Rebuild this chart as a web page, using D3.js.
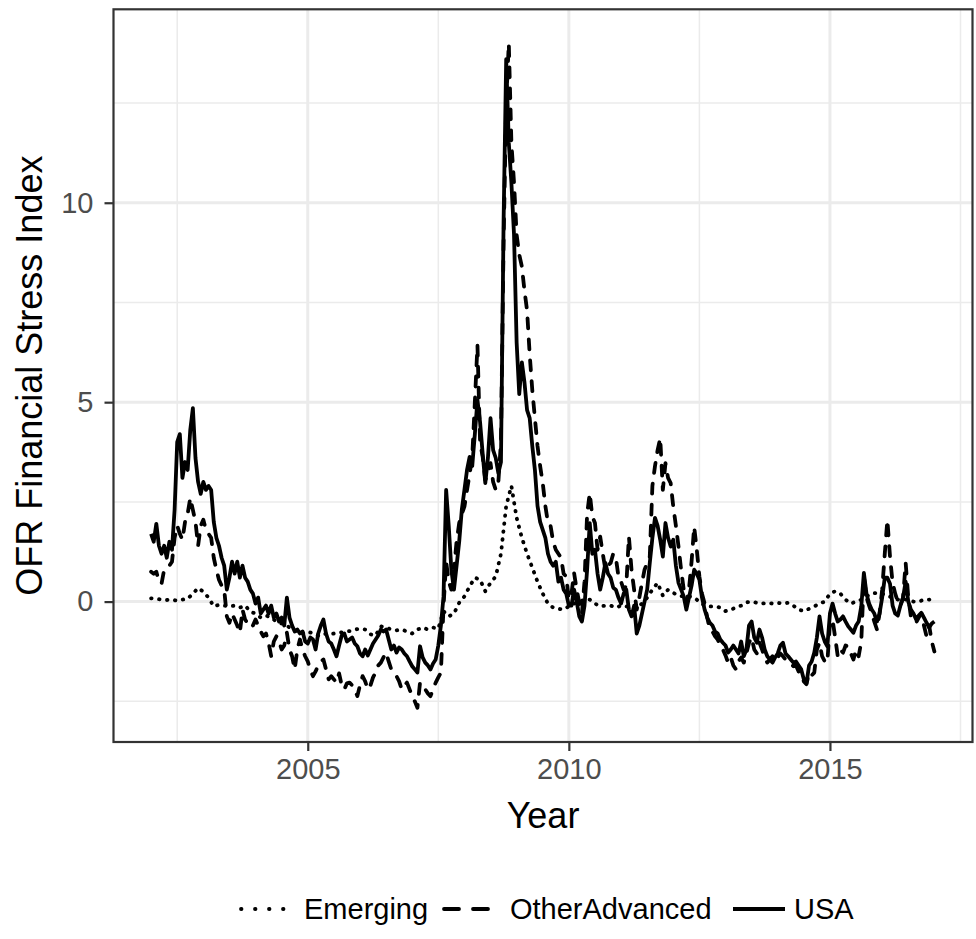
<!DOCTYPE html>
<html>
<head>
<meta charset="utf-8">
<script src="https://cdn.jsdelivr.net/npm/d3@7"></script>
<style>
  html, body { margin: 0; padding: 0; background: #fff; }
  svg { display: block; }
  text { font-family: "Liberation Sans", Arial, Helvetica, sans-serif; }
</style>
</head>
<body>
<svg id="chart" width="976" height="939"></svg>
<script>
// ---------------- DATA ----------------
const seriesNames = ["Emerging", "OtherAdvanced", "USA"];
const xTickValues = [2005, 2010, 2015];
const xTickLabels = ["2005", "2010", "2015"];
const yTickValues = [0, 5, 10];
const yTickLabels = ["0", "5", "10"];
const xMinorValues = [2002.5, 2007.5, 2012.5, 2017.5];
const yMinorValues = [-2.5, 2.5, 7.5, 12.5];

// USA and OtherAdvanced sampled every 0.05 year from 2002.00 to 2017.00
const fineStart = 2002, fineStep = 0.05;
const usaValues = [
  1.7, 1.5, 1.95, 1.4, 1.2, 1.4, 1.1, 1.5, 1.3, 2.3, 4.0, 4.2, 3.1, 3.5, 3.3, 4.3, 4.85, 3.6, 3.0, 2.7,
  3.0, 2.8, 2.9, 2.8, 2.0, 1.6, 1.4, 1.1, 0.9, 0.3, 0.6, 1.0, 0.7, 1.0, 0.6, 0.9, 0.6, 0.5, 0.3, 0.2,
  -0.05, 0.1, -0.3, -0.2, -0.1, -0.3, -0.1, -0.4, -0.3, -0.5, -0.4, -0.6, 0.1, -0.4, -0.6, -0.75, -0.7, -0.8, -0.75, -1.0,
  -1.05, -0.9, -0.95, -1.2, -0.8, -0.6, -0.45, -0.8, -1.0, -1.05, -1.2, -1.37, -1.1, -0.85, -0.8, -1.0, -0.95, -0.9, -1.05, -1.12,
  -1.3, -1.37, -1.2, -1.35, -1.2, -1.05, -0.95, -0.85, -0.7, -0.75, -0.7, -0.95, -1.2, -1.1, -1.28, -1.15, -1.2, -1.3, -1.37, -1.5,
  -1.62, -1.7, -1.78, -1.12, -1.4, -1.53, -1.6, -1.7, -1.55, -1.45, -1.1, -0.6, 0.13, 2.8, 1.9, 0.8, 0.3, 0.9, 1.5, 2.3,
  2.8, 3.3, 3.63, 3.4, 4.2, 5.05, 4.5, 3.7, 2.97, 3.6, 4.6, 3.8, 3.6, 3.22, 3.5, 9.5, 13.6, 11.5, 10.5, 9.2,
  6.5, 5.2, 6.0, 5.5, 4.8, 4.6, 3.9, 3.3, 2.4, 2.0, 1.8, 1.6, 1.2, 1.0, 0.9, 1.0, 0.5, 0.6, 0.3, 0.2,
  -0.1, -0.1, 0.3, 0.0, -0.37, -0.5, -0.1, 0.8, 1.97, 1.2, 1.3, 0.7, 0.3, 0.6, 0.97, 0.7, 0.6, 0.35, 0.3, 0.1,
  -0.05, 0.2, 0.3, -0.2, -0.37, -0.1, -0.8, -0.6, -0.3, 0.0, 0.3, 0.97, 1.6, 2.1, 1.9, 1.55, 1.13, 1.97, 1.6, 1.38,
  1.55, 0.9, 0.47, 0.3, 0.13, -0.2, 0.1, 0.4, 0.8, 0.7, 0.55, 0.1, -0.2, -0.4, -0.53, -0.6, -0.75, -0.8, -0.95, -1.03,
  -1.1, -1.28, -1.2, -1.1, -1.2, -1.3, -1.0, -1.37, -1.2, -0.6, -0.5, -0.9, -1.03, -0.7, -0.9, -1.2, -1.37, -1.45, -1.53, -1.4,
  -1.3, -1.1, -1.03, -1.3, -1.37, -1.45, -1.53, -1.5, -1.6, -1.7, -1.95, -2.05, -1.6, -1.5, -1.28, -0.9, -0.37, -0.8, -1.0, -1.12,
  -0.3, -0.05, -0.3, -0.5, -0.45, -0.37, -0.5, -0.62, -0.7, -0.78, -0.6, -0.5, -0.12, 0.72, 0.2, -0.05, -0.2, -0.3, -0.5, -0.3,
  0.1, 0.6, 0.6, 0.45, -0.1, -0.3, -0.35, -0.1, 0.1, 0.5, 0.0, -0.2, -0.3, -0.45, -0.35, -0.28, -0.4, -0.53, -0.65, -0.55,
  -0.5
];
const otherAdvancedValues = [
  0.75, 0.7, 0.75, 0.5, 0.45, 0.8, 0.85, 0.9, 1.0, 1.6, 1.9, 1.7, 1.55, 2.0, 2.2, 2.6, 2.3, 2.0, 1.4, 1.9,
  2.05, 1.8, 1.7, 1.6, 1.1, 0.8, 0.55, 0.4, 0.3, -0.37, -0.53, -0.3, -0.45, -0.6, -0.78, -0.2, -0.45, -0.55, -0.5, -0.6,
  -0.45, -0.6, -0.75, -0.87, -0.8, -1.03, -1.37, -1.0, -0.87, -1.0, -1.2, -1.1, -0.78, -1.2, -1.37, -1.7, -1.2, -0.95, -1.2, -1.37,
  -1.5, -1.7, -1.87, -1.75, -1.6, -1.5, -1.45, -1.7, -1.95, -1.87, -1.95, -2.03, -1.8, -2.1, -2.2, -2.05, -2.03, -2.1, -2.2, -2.37,
  -2.1, -1.87, -2.0, -2.2, -2.1, -1.9, -1.78, -1.6, -1.53, -1.4, -1.28, -1.5, -1.7, -1.8, -1.87, -2.0, -2.2, -2.1, -2.03, -2.2,
  -2.37, -2.5, -2.66, -2.03, -2.1, -2.2, -2.3, -2.37, -2.2, -2.03, -1.9, -1.78, -0.12, 1.0, 0.5, 0.3, 0.8, 1.5, 1.97, 2.2,
  2.38, 2.8, 3.2, 3.63, 5.0, 6.43, 4.0, 3.63, 3.05, 3.2, 3.47, 3.0, 2.8, 3.0, 4.0, 9.0, 12.5, 14.0, 11.5, 10.5,
  9.2, 8.7, 8.4, 7.8, 7.3, 6.2, 5.3, 4.6, 3.9, 3.4, 2.97, 2.4, 1.97, 1.9, 1.5, 1.3, 1.2, 1.1, 0.7, 0.63,
  0.05, 0.2, 0.72, 0.3, -0.03, -0.3, 0.5, 2.2, 2.72, 2.13, 1.97, 1.3, 1.63, 1.2, 0.8, 0.9, 0.97, 1.2, 1.1, 0.63,
  0.5, 0.3, 0.4, 1.63, 0.8, 0.3, -0.2, 0.1, 0.47, 0.8, 0.97, 1.13, 2.9, 3.4, 3.8, 4.1, 2.8, 3.47, 3.1, 2.97,
  2.38, 1.9, 1.38, 0.8, 0.3, -0.03, 0.3, 1.0, 1.88, 1.3, 0.63, 0.2, -0.05, -0.4, -0.7, -0.75, -0.87, -0.95, -1.1, -1.2,
  -1.35, -1.53, -1.4, -1.6, -1.7, -1.5, -1.4, -1.53, -1.3, -1.03, -0.9, -1.2, -1.3, -1.03, -1.2, -1.4, -1.53, -1.45, -1.37, -1.5,
  -1.4, -1.3, -1.37, -1.45, -1.5, -1.55, -1.62, -1.6, -1.75, -1.8, -2.0, -2.07, -1.78, -1.85, -1.78, -1.2, -1.03, -1.37, -1.5, -1.53,
  -0.53, -0.45, -0.9, -1.37, -1.2, -1.28, -1.1, -1.13, -1.3, -1.45, -1.2, -1.37, -1.0, 0.63, 0.1, -0.1, -0.3, -0.5, -0.7, -0.3,
  0.3, 1.2, 2.05, 1.13, 0.47, 0.2, 0.0, -0.1, 0.1, 0.97, 0.1, -0.37, -0.4, -0.53, -0.4, -0.3, -0.6, -0.87, -0.6, -1.0,
  -1.25
];
// Emerging sampled every 0.1 year from 2002.0 to 2017.0
const coarseStart = 2002, coarseStep = 0.1;
const emergingValues = [
  0.08, 0.07, 0.05, 0.04, 0.05, 0.02, 0.05, 0.07, 0.2, 0.34,
  0.25, 0.1, -0.12, -0.08, -0.1, -0.12, -0.1, -0.15, -0.1, -0.25,
  -0.3, -0.4, -0.35, -0.4, -0.5, -0.55, -0.6, -0.7, -0.75, -0.8,
  -0.75, -0.8, -0.85, -0.8, -0.82, -0.8, -0.78, -0.76, -0.74, -0.7,
  -0.68, -0.7, -0.82, -0.85, -0.62, -0.65, -0.7, -0.72, -0.7, -0.75,
  -0.8, -0.7, -0.65, -0.7, -0.65, -0.68, -0.24, -0.37, -0.3, -0.03,
  0.13, 0.38, 0.6, 0.55, 0.26, 0.47, 0.63, 1.2, 2.4, 2.9,
  2.1, 1.6, 1.2, 0.85, 0.5, 0.2, -0.05, -0.15, -0.18, -0.2,
  -0.12, -0.05, 0.0, 0.05, 0.05, -0.05, -0.12, -0.1, -0.1, -0.15,
  -0.1, -0.12, -0.15, -0.16, -0.05, 0.1, 0.3, 0.47, 0.15, 0.3,
  0.22, 0.15, 0.13, 0.13, 0.1, 0.0, -0.1, -0.12, -0.12, -0.15,
  -0.24, -0.2, -0.15, -0.1, -0.02, 0.0, -0.03, -0.05, -0.03, -0.05,
  -0.03, -0.05, -0.03, -0.1, -0.2, -0.24, -0.18, -0.12, -0.05, 0.0,
  0.2, 0.26, 0.2, 0.05, -0.05, 0.0, 0.05, 0.13, 0.2, 0.22,
  0.2, 0.15, 0.1, 0.05, 0.05, 0.05, 0.0, 0.0, 0.05, 0.05,
  0.08
];

// ---------------- CHART ----------------
const svg = d3.select("#chart");
const panel = { left: 113.5, right: 972.5, top: 9.3, bottom: 742 };
const lineW = 3.8;

const x = d3.scaleLinear().domain([2001.28, 2017.73]).range([panel.left, panel.right]);
const y = d3.scaleLinear().domain([-3.52, 14.85]).range([panel.bottom, panel.top]);

const toPoints = (vals, start, step) => vals.map((v, i) => ({ t: start + i * step, v }));
const series = [
  { name: "Emerging", pts: toPoints(emergingValues, coarseStart, coarseStep), dash: "0.5,7.5", legendDash: "0.5,13.5" },
  { name: "OtherAdvanced", pts: toPoints(otherAdvancedValues, fineStart, fineStep), dash: "10,11", legendDash: "15,14" },
  { name: "USA", pts: toPoints(usaValues, fineStart, fineStep), dash: null, legendDash: null }
];

// panel background
svg.append("rect").attr("x", panel.left).attr("y", panel.top)
  .attr("width", panel.right - panel.left).attr("height", panel.bottom - panel.top)
  .attr("fill", "#fff");

const grid = svg.append("g");
grid.selectAll("line.xminor").data(xMinorValues).join("line")
  .attr("x1", d => x(d)).attr("x2", d => x(d)).attr("y1", panel.top).attr("y2", panel.bottom)
  .attr("stroke", "#EBEBEB").attr("stroke-width", 1.5);
grid.selectAll("line.yminor").data(yMinorValues).join("line")
  .attr("y1", d => y(d)).attr("y2", d => y(d)).attr("x1", panel.left).attr("x2", panel.right)
  .attr("stroke", "#EBEBEB").attr("stroke-width", 1.5);
grid.selectAll("line.xmajor").data(xTickValues).join("line")
  .attr("x1", d => x(d)).attr("x2", d => x(d)).attr("y1", panel.top).attr("y2", panel.bottom)
  .attr("stroke", "#EBEBEB").attr("stroke-width", 3);
grid.selectAll("line.ymajor").data(yTickValues).join("line")
  .attr("y1", d => y(d)).attr("y2", d => y(d)).attr("x1", panel.left).attr("x2", panel.right)
  .attr("stroke", "#EBEBEB").attr("stroke-width", 3);

// lines
const line = d3.line().x(d => x(d.t)).y(d => y(d.v));
const lineG = svg.append("g");
series.forEach(s => {
  lineG.append("path").datum(s.pts)
    .attr("d", line)
    .attr("fill", "none")
    .attr("stroke", "#000")
    .attr("stroke-width", lineW)
    .attr("stroke-linejoin", "round")
    .attr("stroke-linecap", s.dash ? "round" : "butt")
    .attr("stroke-dasharray", s.dash);
});

// panel border
svg.append("rect").attr("x", panel.left).attr("y", panel.top)
  .attr("width", panel.right - panel.left).attr("height", panel.bottom - panel.top)
  .attr("fill", "none").attr("stroke", "#333333").attr("stroke-width", 2.2);

// axes
const xAxis = d3.axisBottom(x).tickValues(xTickValues)
  .tickFormat((d, i) => xTickLabels[i]).tickSize(9).tickPadding(7);
const gx = svg.append("g").attr("transform", `translate(0,${panel.bottom})`).call(xAxis);
gx.select(".domain").remove();
gx.selectAll(".tick line").attr("stroke", "#333333").attr("stroke-width", 2.2);
gx.selectAll(".tick text").attr("fill", "#4D4D4D").style("font-size", "29px")
  .attr("font-family", "'Liberation Sans', Arial, sans-serif");

const yAxis = d3.axisLeft(y).tickValues(yTickValues)
  .tickFormat((d, i) => yTickLabels[i]).tickSize(9).tickPadding(11);
const gy = svg.append("g").attr("transform", `translate(${panel.left},0)`).call(yAxis);
gy.select(".domain").remove();
gy.selectAll(".tick line").attr("stroke", "#333333").attr("stroke-width", 2.2);
gy.selectAll(".tick text").attr("fill", "#4D4D4D").style("font-size", "29px")
  .attr("font-family", "'Liberation Sans', Arial, sans-serif");

// axis titles
svg.append("text").attr("x", (panel.left + panel.right) / 2).attr("y", 828)
  .attr("text-anchor", "middle").style("font-size", "36px").attr("fill", "#000")
  .text("Year");
svg.append("text")
  .attr("transform", `translate(42,${(panel.top + panel.bottom) / 2}) rotate(-90)`)
  .attr("text-anchor", "middle").style("font-size", "36px").attr("fill", "#000")
  .text("OFR Financial Stress Index");

// legend
const legendPos = [
  { keyX: 241, textX: 304 },
  { keyX: 444, textX: 510 },
  { keyX: 733, textX: 794 }
];
const legendY = 909;
const lg = svg.append("g");
series.forEach((s, i) => {
  const p = legendPos[i];
  lg.append("line").attr("x1", p.keyX).attr("x2", p.keyX + 52)
    .attr("y1", legendY).attr("y2", legendY)
    .attr("stroke", "#000").attr("stroke-width", lineW)
    .attr("stroke-linecap", s.dash ? "round" : "butt")
    .attr("stroke-dasharray", s.legendDash);
  lg.append("text").attr("x", p.textX).attr("y", legendY)
    .attr("dy", "0.36em").style("font-size", "29px").attr("fill", "#000")
    .text(seriesNames[i]);
});
</script>
</body>
</html>
